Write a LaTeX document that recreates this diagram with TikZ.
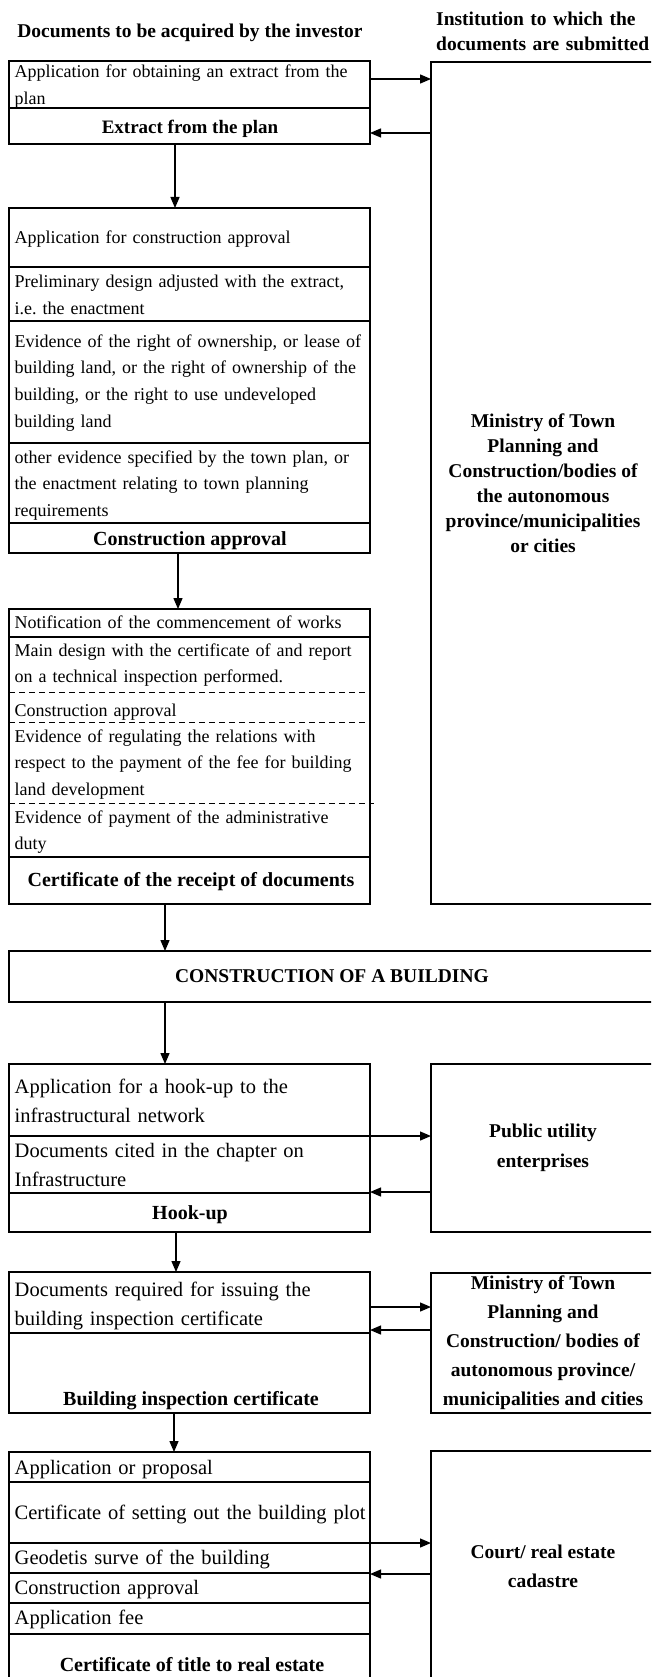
\documentclass[tikz,border=0pt]{standalone}
\usepackage{fontspec}
\setmainfont{Liberation Serif}
\usepackage{tikz}
\usetikzlibrary{arrows.meta,positioning,calc}
\frenchspacing

\newcommand{\docfont}{\fontsize{18}{26.7}\selectfont}
\newcommand{\docfontb}{\fontsize{20.5}{29.5}\selectfont}
\newcommand{\headfont}{\fontsize{19.5}{25}\selectfont\bfseries}

\begin{document}
\begin{tikzpicture}[x=1pt,y=-1pt,
    box/.style={draw, line width=2.6pt, inner sep=0pt, outer sep=0pt, anchor=north west, minimum width=361pt},
    office/.style={box, minimum width=224pt, align=center, font=\headfont},
    divider/.style={line width=1.2pt},
    arr/.style={line width=1.3pt, -{Triangle[length=11pt,width=9pt]}},
    doc/.style={anchor=base west, inner sep=0pt, text width=400pt, align=left, font=\docfont},
    docb/.style={doc, font=\docfontb},
    res/.style={anchor=base, inner sep=0pt, font=\fontsize{20}{24}\selectfont\bfseries}]

      \useasboundingbox (0,0) rectangle (651,1677);
      \clip (0,0) rectangle (651,1677);

      \node[anchor=base, inner sep=0pt, font=\headfont] (lefthead) at (190,38) {Documents to be acquired by the investor};
      \node[anchor=base west, inner sep=0pt, text width=230pt, align=left, font=\headfont] (righthead) at (436,26) {Institution to which the\\documents are submitted};

      \node[box, minimum height=83pt] (plan) at (9,61) {};
      \node[box, minimum height=345pt] (approval) at (9,208) {};
      \node[box, minimum height=295pt] (works) at (9,609) {};
      \node[box, minimum width=646pt, minimum height=51pt, font=\headfont] (build) at (9,951) {CONSTRUCTION OF A BUILDING};
      \node[box, minimum height=168pt] (hookup) at (9,1064) {};
      \node[box, minimum height=141pt] (inspect) at (9,1272) {};
      \node[box, minimum height=229pt] (title) at (9,1452) {};

      \node[office, minimum height=842pt] (ministry) at (431,62) {Ministry of Town\\Planning and\\Construction/bodies of\\the autonomous\\province/municipalities\\or cities};
      \node[office, minimum height=168pt, font=\fontsize{19.5}{30}\selectfont\bfseries] (utility) at (431,1064) {Public utility\\enterprises};
      \node[office, minimum height=140pt, font=\fontsize{19.5}{29}\selectfont\bfseries] (ministryb) at (431,1273) {Ministry of Town\\Planning and\\Construction/ bodies of\\autonomous province/\\municipalities and cities};
      \node[office, minimum height=230pt, font=\fontsize{19.5}{29}\selectfont\bfseries] (court) at (431,1451) {Court/ real estate\\cadastre};

      \draw[divider] (9,108) -- (370,108);
      \foreach \y in {267,321,443,523,637,857}
        \draw[divider] (9,\y) -- (370,\y);
      \foreach \y in {692,722}
        \draw[divider, line width=1pt, dash pattern=on 6pt off 4pt] (9,\y) -- (370,\y);
      \draw[divider, line width=1pt, dash pattern=on 6pt off 4pt] (9,803) -- (374,803);
      \foreach \y in {1136,1193,1333,1482,1543,1573,1603}
        \draw[divider] (9,\y) -- (370,\y);
      \draw[divider, line width=2pt] (9,1634) -- (370,1634);

      \node[doc] (p1) at (14.5,78) {Application for obtaining an extract from the\\plan};
      \node[res, font=\fontsize{19}{24}\selectfont\bfseries] (p2) at (190,134) {Extract from the plan};

      \node[doc] (a1) at (14.5,244) {Application for construction approval};
      \node[doc] (a2) at (14.5,288) {Preliminary design adjusted with the extract,\\i.e. the enactment};
      \node[doc] (a3) at (14.5,347) {Evidence of the right of ownership, or lease of\\building land, or the right of ownership of the\\building, or the right to use undeveloped\\building land};
      \node[doc] (a4) at (14.5,463) {other evidence specified by the town plan, or\\the enactment relating to town planning\\requirements};
      \node[res] (a5) at (190,545) {Construction approval};

      \node[doc] (w1) at (14.5,628) {Notification of the commencement of works};
      \node[doc] (w2) at (14.5,656) {Main design with the certificate of and report\\on a technical inspection performed.};
      \node[doc] (w3) at (14.5,716) {Construction approval};
      \node[doc] (w4) at (14.5,742) {Evidence of regulating the relations with\\respect to the payment of the fee for building\\land development};
      \node[doc] (w5) at (14.5,823) {Evidence of payment of the administrative\\duty};
      \node[res] (w6) at (191,886) {Certificate of the receipt of documents};

      \node[docb] (h1) at (14.5,1093) {Application for a hook-up to the\\infrastructural network};
      \node[docb] (h2) at (14.5,1157) {Documents cited in the chapter on\\Infrastructure};
      \node[res] (h3) at (190,1219) {Hook-up};

      \node[docb] (i1) at (14.5,1296) {Documents required for issuing the\\building inspection certificate};
      \node[res] (i2) at (191,1405) {Building inspection certificate};

      \node[docb] (t1) at (14.5,1474) {Application or proposal};
      \node[docb] (t2) at (14.5,1519) {Certificate of setting out the building plot};
      \node[docb] (t3) at (14.5,1564) {Geodetis surve of the building};
      \node[docb] (t4) at (14.5,1594) {Construction approval};
      \node[docb] (t5) at (14.5,1624) {Application fee};
      \node[res] (t6) at (192,1671) {Certificate of title to real estate};

      \draw[arr] (plan.east |- 0,79) -- (ministry.west |- 0,79);
      \draw[arr] (ministry.west |- 0,133) -- (plan.east |- 0,133);
      \draw[arr] (plan.south -| 175,0) -- (approval.north -| 175,0);
      \draw[arr] (approval.south -| 178,0) -- (works.north -| 178,0);
      \draw[arr] (works.south -| 165,0) -- (build.north -| 165,0);
      \draw[arr] (build.south -| 165,0) -- (hookup.north -| 165,0);
      \draw[arr] (hookup.east |- 0,1136) -- (utility.west |- 0,1136);
      \draw[arr] (utility.west |- 0,1192) -- (hookup.east |- 0,1192);
      \draw[arr] (hookup.south -| 176,0) -- (inspect.north -| 176,0);
      \draw[arr] (inspect.east |- 0,1307) -- (ministryb.west |- 0,1307);
      \draw[arr] (ministryb.west |- 0,1330) -- (inspect.east |- 0,1330);
      \draw[arr] (inspect.south -| 174,0) -- (title.north -| 174,0);
      \draw[arr] (title.east |- 0,1543) -- (court.west |- 0,1543);
      \draw[arr] (court.west |- 0,1574) -- (title.east |- 0,1574);

\end{tikzpicture}
\end{document}
